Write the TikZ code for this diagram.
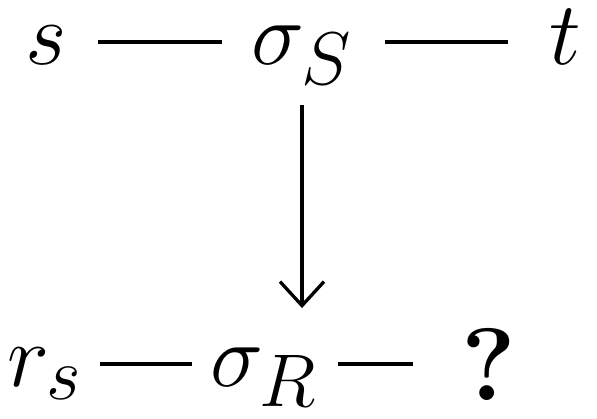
\documentclass[tikz,border=0pt]{standalone}
\usetikzlibrary{arrows.meta}

\begin{document}
\begin{tikzpicture}[x=1pt, y=-1pt, line join=round,
    obj/.style={inner sep=0pt, outer sep=0pt, anchor=base,
                text height=12.6pt, text depth=0.4pt,
                font=\Huge, scale=3.6},
    edge/.style={line width=3.3pt},
    mapto/.style={line width=3.3pt, -{Straight Barb[length=24pt, width=44pt, line width=3.3pt]}}]
    % 画布范围
    \useasboundingbox (0,0) rectangle (597,418);

    % 上一行: s -- sigma_S -- t
    \node[obj] (s)    at (46,64)  {$s$};
    \node[obj] (sigS) at (302,64) {$\sigma_S$};
    \node[obj] (t)    at (565,64) {$t$};

    % 下一行: r_s -- sigma_R -- ?
    \node[obj] (rs)   at (45,386)  {$r_s$};
    \node[obj] (sigR) at (264,386) {$\sigma_R$};
    \node[obj, scale=1.15] (ques) at (489,400) {\bfseries ?};

    % 水平连线 (端点按中心点缩短)
    \draw[edge, shorten <=52pt, shorten >=80pt] (s.center) -- (sigS.center);
    \draw[edge, shorten <=83pt, shorten >=57pt] (sigS.center) -- (t.center);
    \draw[edge, shorten <=55pt, shorten >=72pt] (rs.center) -- (sigR.center);
    \draw[edge, shorten <=74pt, shorten >=76pt] (sigR.center) -- (ques.center |- sigR.center);

    % 竖直箭头 sigma_S -> sigma_R
    \draw[mapto, shorten <=63pt, shorten >=56pt] (sigS.center) -- (sigS.center |- sigR.center);
\end{tikzpicture}
\end{document}
